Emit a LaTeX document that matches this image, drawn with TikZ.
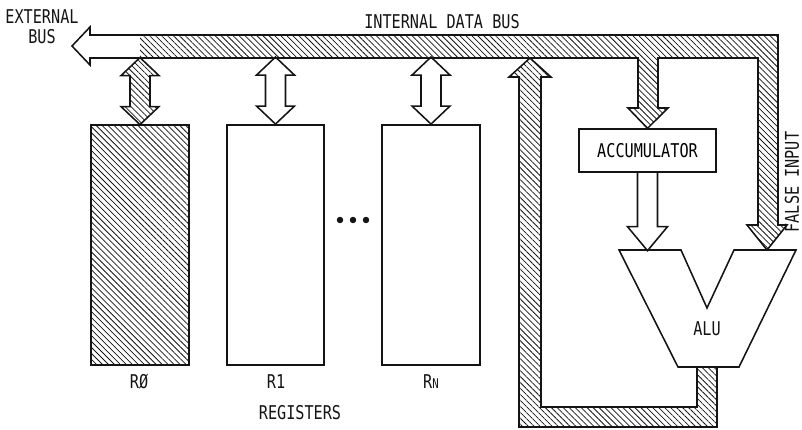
\documentclass[tikz,border=0pt]{standalone}
\usepackage{fontspec}
\setmonofont{DejaVu Sans Mono}[FakeStretch=0.8]
\usetikzlibrary{patterns.meta,calc}
\definecolor{ink}{HTML}{141414}
\tikzset{
  font=\ttfamily\fontsize{13.5}{15}\selectfont,
  %% nodes
  reg/.style     = {draw=ink, line width=1.3pt, minimum width=2.43cm,
                    minimum height=6cm, inner sep=0pt},
  accbox/.style  = {draw=ink, line width=1.1pt, minimum width=3.42cm,
                    minimum height=1.07cm, inner sep=0pt},
  %% buses and fat arrows
  hatch/.style   = {pattern={Lines[angle=-45, distance=3pt, line width=0.55pt]},
                    pattern color=ink},
  busline/.style = {draw=ink, line width=1.1pt, line join=miter},
  %% annotations
  lbl/.style     = {text=ink, inner sep=0pt},
}
%% double fat arrow between a register and the bus
\newcommand{\regarrow}[2][]{%
  \draw[busline,#1] (#2.north) -- ++(19,-18) -- ++(-9,0) -- ++(0,-31) -- ++(9,0)
    -- ++(-19,-18) -- ++(-19,18) -- ++(9,0) -- ++(0,31) -- ++(-9,0) -- cycle;}

\begin{document}
\begin{tikzpicture}[x=0.025cm, y=-0.025cm]
\useasboundingbox (0,0) rectangle (802,429);

%% ============ registers ============
\node[reg, hatch] (R0) at (140,245) {};
\node[reg]        (R1) at (275.5,245) {};
\node[reg]        (Rn) at (431,245) {};
\node[lbl] (labR0) at (139,382) {RØ};
\node[lbl] (labR1) at (276,382) {R1};
\node[lbl] (labRn) at (431,382) {R{\fontsize{9.5}{10}\selectfont N}};
\node[lbl] (regs)  at (300,413) {REGISTERS};
\foreach \x in {340,353,366}
  \fill[ink] (\x,220) circle (2.3pt);

\regarrow[hatch]{R0}
\regarrow{R1}
\regarrow{Rn}

%% ============ accumulator and alu ============
\node[accbox] (acc) at (647.5,150.5) {ACCUMULATOR};
\draw[busline] (619,250) -- (681,250) -- (707,308) -- (734,250) -- (796,250)
  -- (739,367) -- (678,367) -- cycle;
\node[lbl] (alu) at (707,329) {ALU};
\draw[busline] (acc.south) ++(-10,0) -- ++(0,54) -- ++(-10,0) -- ++(20,24)
  -- ++(20,-24) -- ++(-10,0) -- ++(0,-54);

%% ============ internal data bus ============
\def\buspath{(72,46) -- (90,27) -- (90,35) -- (778,35) -- (778,225) -- (787,225)
  -- (767,250) -- (747,225) -- (758,225) -- (758,58) -- (658,58) -- (658,108)
  -- (668,108) -- (acc.north) -- (628,108) -- (638,108) -- (638,58) -- (90,58)
  -- (90,65) -- cycle}
\begin{scope}
  \clip (140,0) rectangle (802,429);
  \fill[hatch] \buspath;
\end{scope}
\draw[busline] \buspath;

%% alu output back to the bus
\draw[busline, hatch] (717,367) -- (717,427) -- (519,427) -- (519,77) -- (509,77)
  -- (530,58) -- (551,77) -- (541,77) -- (541,407) -- (697,407) -- (697,367) -- cycle;

%% ============ labels ============
\node[lbl] (extbus) at (42,17) {EXTERNAL};
\node[lbl] (extbus2) at (42,37) {BUS};
\node[lbl] (idb) at (442,22) {INTERNAL DATA BUS};
\node[lbl, rotate=90] (fin) at (792,182) {FALSE INPUT};

\end{tikzpicture}
\end{document}
